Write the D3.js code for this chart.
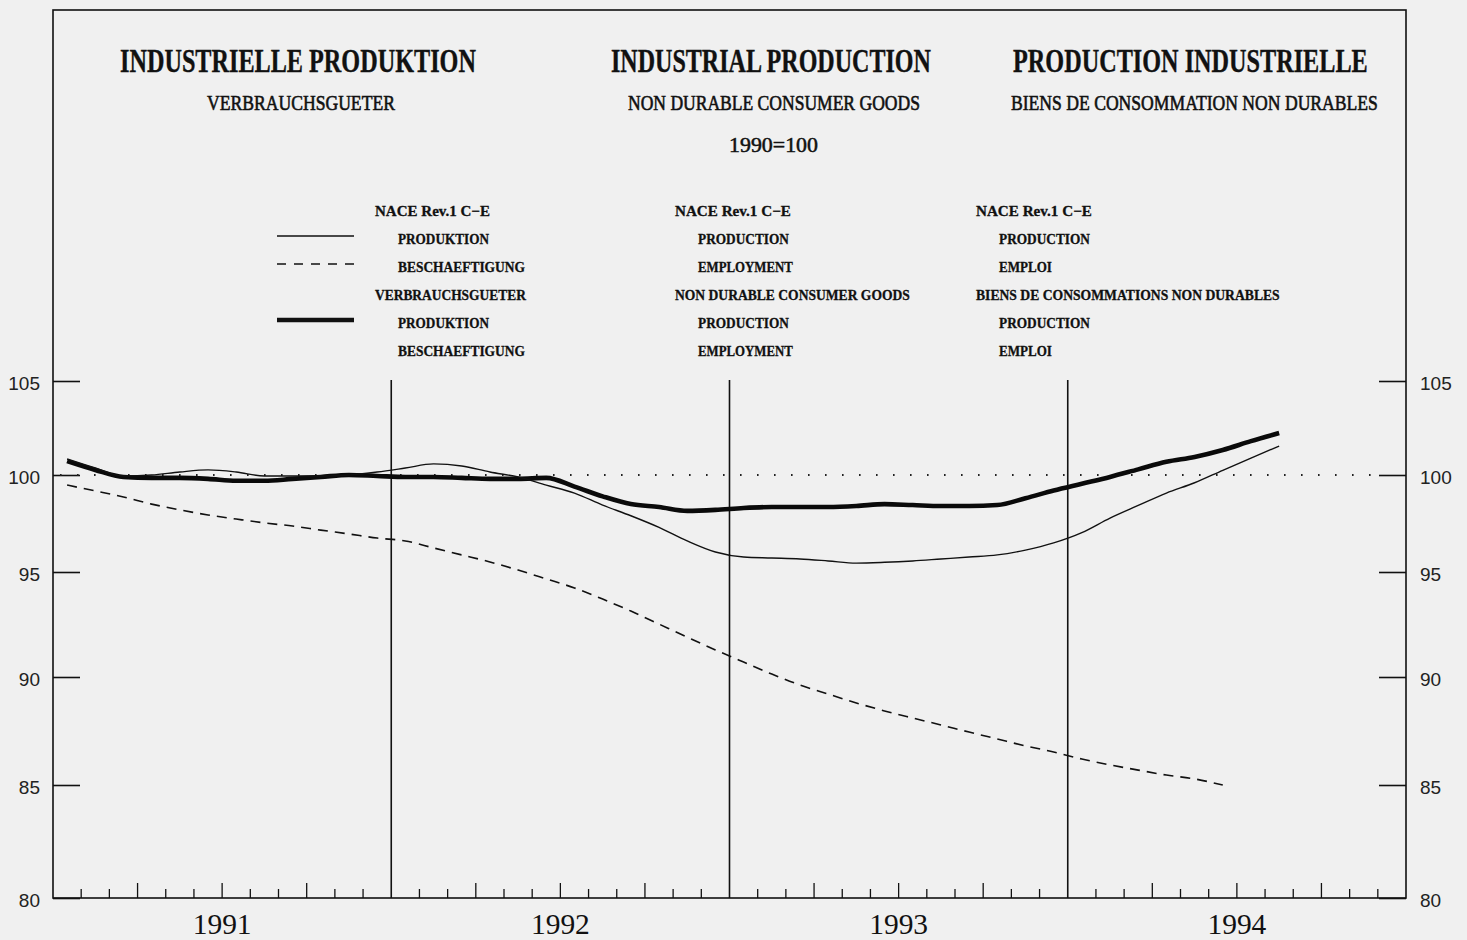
<!DOCTYPE html>
<html><head><meta charset="utf-8">
<script src="https://cdn.jsdelivr.net/npm/d3@7"></script>
<style>html,body{margin:0;padding:0;background:#f0f0f0;} svg{display:block;}</style>
</head><body>
<svg id="chart" width="1467" height="940"></svg>
<script>
// ---------- DATA ----------
const years = ["1991", "1992", "1993", "1994"];
const yTicks = [80, 85, 90, 95, 100, 105];

// NACE Rev.1 C-E production (thin solid), monthly from Jan 1991
const naceProduction = [100.85,100.37,99.95,100.0,100.16,100.27,100.16,99.95,99.95,99.95,100.0,100.16,
  100.37,100.59,100.48,100.16,99.9,99.48,99.07,98.45,97.9,97.3,96.6,96.03,
  95.77,95.72,95.67,95.57,95.46,95.5,95.57,95.67,95.77,95.88,96.13,96.5,
  97.03,97.78,98.43,99.07,99.6,100.25,100.9,101.54];

// NACE Rev.1 C-E employment (dashed)
const naceEmployment = [99.48,99.18,98.87,98.5,98.2,97.94,97.73,97.53,97.37,97.16,96.96,96.75,
  96.6,96.24,95.88,95.52,95.1,94.67,94.24,93.71,93.14,92.52,91.9,91.29,
  90.71,90.14,89.63,89.21,88.8,88.43,88.1,87.78,87.45,87.13,86.81,86.53,
  86.2,85.93,85.69,85.46,85.28,85.0];

// Non durable consumer goods production (thick solid)
const nonDurableProduction = [100.74,100.27,99.9,99.85,99.85,99.8,99.7,99.7,99.8,99.9,100.0,99.95,
  99.9,99.9,99.85,99.8,99.8,99.85,99.4,98.9,98.5,98.35,98.15,98.2,
  98.3,98.35,98.35,98.35,98.4,98.5,98.45,98.4,98.4,98.45,98.8,99.2,
  99.55,99.9,100.3,100.7,100.96,101.33,101.8,102.23];

const titles = ["INDUSTRIELLE PRODUKTION", "INDUSTRIAL PRODUCTION", "PRODUCTION INDUSTRIELLE"];
const subtitles = ["VERBRAUCHSGUETER", "NON DURABLE CONSUMER GOODS", "BIENS DE CONSOMMATION NON DURABLES"];
const baseLabel = "1990=100";
const legendDE = ["NACE Rev.1 C\u2212E", "PRODUKTION", "BESCHAEFTIGUNG", "VERBRAUCHSGUETER", "PRODUKTION", "BESCHAEFTIGUNG"];
const legendEN = ["NACE Rev.1 C\u2212E", "PRODUCTION", "EMPLOYMENT", "NON DURABLE CONSUMER GOODS", "PRODUCTION", "EMPLOYMENT"];
const legendFR = ["NACE Rev.1 C\u2212E", "PRODUCTION", "EMPLOI", "BIENS DE CONSOMMATIONS NON DURABLES", "PRODUCTION", "EMPLOI"];

// ---------- LAYOUT ----------
const svg = d3.select("#chart");
const L = 53, R = 1406, T = 10, B = 898;
const serif = "'Liberation Serif','DejaVu Serif',serif";
const sans = "'Liberation Sans',Arial,sans-serif";

svg.append("rect").attr("width", 1467).attr("height", 940).attr("fill", "#f0f0f0");

const x = d3.scaleLinear().domain([0, 48]).range([L, R]);
const y = d3.scaleLinear().domain(yTicks).range([898, 785, 677, 572, 475, 381]);

// helper: text condensed horizontally to a target width
function fitText(parent, str, px, py, width, opts) {
  const g = parent.append("g").attr("transform", `translate(${px},${py})`);
  const t = g.append("text").attr("x", 0).attr("y", 0)
    .attr("font-family", opts.family || serif)
    .attr("font-weight", opts.weight || "normal")
    .attr("font-size", opts.size)
    .attr("fill", "#111")
    .attr("text-anchor", opts.anchor || "start")
    .text(str);
  if (opts.stroke) t.attr("stroke", "#111").attr("stroke-width", opts.stroke);
  const w = t.node().getComputedTextLength();
  const sx = w > 0 ? width / w : 1;
  g.attr("transform", `translate(${px},${py}) scale(${sx},1)`);
  return g;
}

// frame
svg.append("rect").attr("x", L).attr("y", T).attr("width", R - L).attr("height", B - T)
  .attr("fill", "none").attr("stroke", "#111").attr("stroke-width", 1.6);

// y axes
const leftAxis = d3.axisLeft(y).tickValues(yTicks).tickSize(-27).tickPadding(13).tickFormat(d3.format("d"));
const gl = svg.append("g").attr("transform", `translate(${L},0)`).call(leftAxis);
const rightAxis = d3.axisRight(y).tickValues(yTicks).tickSize(-27).tickPadding(14).tickFormat(d3.format("d"));
const gr = svg.append("g").attr("transform", `translate(${R},0)`).call(rightAxis);
[gl, gr].forEach(g => {
  g.select(".domain").remove();
  g.selectAll(".tick line").attr("stroke", "#111").attr("stroke-width", 1.6);
  g.selectAll(".tick text").attr("font-family", sans).attr("font-size", 19).attr("fill", "#222").attr("dy", "0.45em");
});

// month ticks on bottom axis
const months = d3.range(1, 48).filter(i => i % 12 !== 0);
svg.append("g").selectAll("line").data(months).join("line")
  .attr("x1", d => x(d)).attr("x2", d => x(d))
  .attr("y1", B).attr("y2", d => d % 3 === 0 ? B - 15 : B - 9)
  .attr("stroke", "#111").attr("stroke-width", 1.3);

// year separators
svg.append("g").selectAll("line").data([12, 24, 36]).join("line")
  .attr("x1", d => x(d)).attr("x2", d => x(d))
  .attr("y1", y(105) - 1).attr("y2", B)
  .attr("stroke", "#111").attr("stroke-width", 1.6);

// year labels
const yearG = svg.append("g");
years.forEach((d, i) => fitText(yearG, d, x(i * 12 + 6), 934, 59, {size: 30, anchor: "middle"}));

// reference line at 100
svg.append("line").attr("x1", 60).attr("x2", 1374).attr("y1", y(100)).attr("y2", y(100))
  .attr("stroke", "#222").attr("stroke-width", 2.2).attr("stroke-dasharray", "1.6,15.4")
  .attr("stroke-linecap", "butt");

// series lines
const lineGen = d3.line().x((d, i) => x(i + 0.5)).y(d => y(d)).curve(d3.curveMonotoneX);
svg.append("path").datum(naceEmployment).attr("d", lineGen)
  .attr("fill", "none").attr("stroke", "#111").attr("stroke-width", 1.6).attr("stroke-dasharray", "10,7");
svg.append("path").datum(nonDurableProduction).attr("d", lineGen)
  .attr("fill", "none").attr("stroke", "#0a0a0a").attr("stroke-width", 4.6).attr("stroke-linejoin", "round");
svg.append("path").datum(naceProduction).attr("d", lineGen)
  .attr("fill", "none").attr("stroke", "#111").attr("stroke-width", 1.4);

// titles
const titleG = svg.append("g");
const titleSpecs = [[120, 356], [611, 320], [1013, 355]];
titles.forEach((d, i) => fitText(titleG, d, titleSpecs[i][0], 72, titleSpecs[i][1], {size: 33, weight: "bold", stroke: 0.4}));
const subSpecs = [[207, 188], [628, 292], [1011, 367]];
subtitles.forEach((d, i) => fitText(titleG, d, subSpecs[i][0], 110, subSpecs[i][1], {size: 21, stroke: 0.6}));
fitText(titleG, baseLabel, 729, 152, 89, {size: 20, stroke: 0.5});

// legend samples
const sampleRows = [
  {row: 1, width: 1.4, dash: null},
  {row: 2, width: 1.5, dash: "9,8"},
  {row: 4, width: 4.6, dash: null}
];
const rowY = r => 211 + r * 28;
svg.append("g").selectAll("line").data(sampleRows).join("line")
  .attr("x1", 277).attr("x2", 354).attr("y1", d => rowY(d.row) - 3).attr("y2", d => rowY(d.row) - 3)
  .attr("stroke", "#111").attr("stroke-width", d => d.width)
  .attr("stroke-dasharray", d => d.dash);

// legend text columns
const legendCols = [
  {x: 375, labels: legendDE, widths: [115, 91, 127, 151, 91, 127]},
  {x: 675, labels: legendEN, widths: [116, 91, 95, 235, 91, 95]},
  {x: 976, labels: legendFR, widths: [116, 91, 53, 304, 91, 53]}
];
const legG = svg.append("g");
legendCols.forEach(col => {
  col.labels.forEach((d, i) => {
    const lx = (i === 0 || i === 3) ? col.x : col.x + 23;
    fitText(legG, d, lx, rowY(i) + 5, col.widths[i], {size: 15, weight: "bold", stroke: 0.3});
  });
});
</script>
</body></html>
